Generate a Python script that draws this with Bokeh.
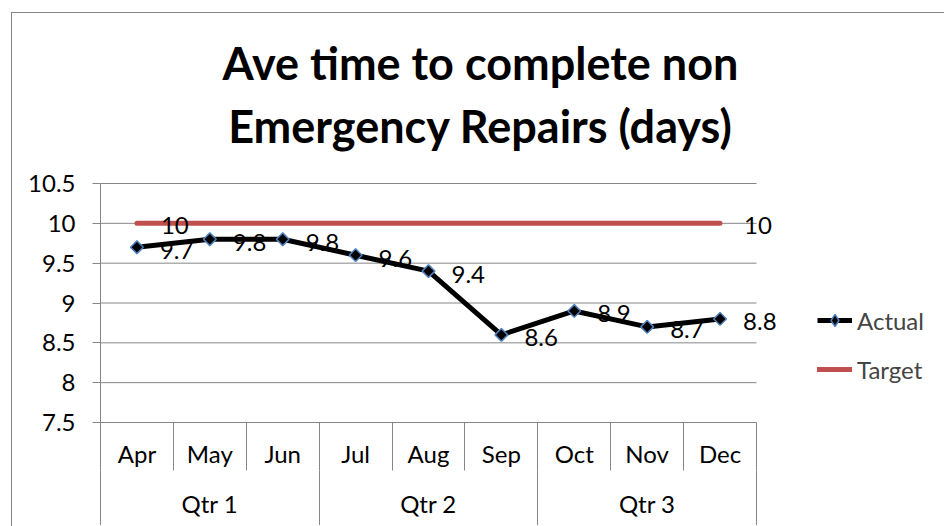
from bokeh.plotting import figure
from bokeh.models import (Range1d, LinearAxis, FixedTicker, CustomJSTickFormatter,
                          NumeralTickFormatter, Legend, LegendItem, LabelSet,
                          ColumnDataSource, Label, InlineStyleSheet)
from bokeh.core.properties import value
from bokeh.embed import file_html
from bokeh.resources import INLINE
import numpy as np

# ---- data ----
months = ["Apr", "May", "Jun", "Jul", "Aug", "Sep", "Oct", "Nov", "Dec"]
quarters = ["Qtr 1", "Qtr 2", "Qtr 3"]
months_per_quarter = 3
actual = [9.7, 9.8, 9.8, 9.6, 9.4, 8.6, 8.9, 8.7, 8.8]
target = [10, 10, 10, 10, 10, 10, 10, 10, 10]
y_ticks = [7.5, 8, 8.5, 9, 9.5, 10, 10.5]
title_lines = ["Ave time to complete non", "Emergency Repairs (days)"]

FONT = "Lato"
FS = "24px"
GRAY = "#868686"

# ---- layout (pixels) ----
PLOT_W, PLOT_H = 656, 239      # area holding the gridlines
LEFT, BOTTOM = 100, 103
FRAME_W, FRAME_H = 844, 422    # frame extends right/up so text beyond the grid is not clipped

n = len(months)
x = [i + 0.5 for i in range(n)]
month_bounds = list(range(n + 1))
q_centers = [i * months_per_quarter + months_per_quarter / 2 for i in range(len(quarters))]
q_bounds = [i * months_per_quarter for i in range(len(quarters) + 1)]
y0, y1 = min(y_ticks), max(y_ticks)
x_end = n * FRAME_W / PLOT_W
y_end = y0 + (y1 - y0) * FRAME_H / PLOT_H

src = ColumnDataSource(dict(x=x, actual=actual, target=target,
                            alabel=[str(v) for v in actual],
                            tlabel=[str(v) if i in (0, len(target) - 1) else "" for i, v in enumerate(target)]))
grid_src = ColumnDataSource(dict(x0=[0] * len(y_ticks), x1=[n] * len(y_ticks), y=y_ticks))

p = figure(frame_width=FRAME_W, frame_height=FRAME_H,
           min_border_left=LEFT, min_border_right=0, min_border_top=0, min_border_bottom=BOTTOM,
           x_range=Range1d(0, x_end), y_range=Range1d(y0, y_end),
           x_axis_type=None, y_axis_type=None,
           output_backend="svg", toolbar_location=None)
p.outline_line_color = None
p.background_fill_color = "white"
p.border_fill_color = "white"

# horizontal gridlines, limited to the category span
p.segment(x0="x0", x1="x1", y0="y", y1="y", source=grid_src, line_color=GRAY, line_width=1)

# y axis
yticker = FixedTicker(ticks=y_ticks, minor_ticks=[])
yaxis = LinearAxis(ticker=yticker, formatter=NumeralTickFormatter(format="0.[0]"), bounds=(y0, y1),
                   axis_line_color=GRAY, major_tick_line_color=GRAY,
                   major_tick_out=8, major_tick_in=0, minor_tick_out=0, minor_tick_in=0,
                   major_label_standoff=17, major_label_text_font=FONT,
                   major_label_text_font_size=FS, major_label_text_color="black")
p.add_layout(yaxis, "left")

# month axis
maxis = LinearAxis(ticker=FixedTicker(ticks=x, minor_ticks=month_bounds), bounds=(0, n),
                   formatter=CustomJSTickFormatter(args=dict(labels=months),
                                                   code="return labels[Math.round(tick - 0.5)]"),
                   axis_line_color=GRAY, major_tick_out=0, major_tick_in=0,
                   minor_tick_out=48, minor_tick_in=0, minor_tick_line_color=GRAY,
                   major_label_standoff=-32, major_label_text_font=FONT,
                   major_label_text_font_size=FS, major_label_text_color="black")
p.add_layout(maxis, "below")

# quarter axis
qaxis = LinearAxis(ticker=FixedTicker(ticks=q_centers, minor_ticks=q_bounds), bounds=(0, n),
                   formatter=CustomJSTickFormatter(args=dict(labels=quarters, n=months_per_quarter),
                                                   code="return labels[Math.round((tick - n/2) / n)]"),
                   axis_line_color=None, major_tick_out=0, major_tick_in=0,
                   minor_tick_out=70, minor_tick_in=0, minor_tick_line_color=GRAY,
                   major_label_standoff=-52, major_label_text_font=FONT,
                   major_label_text_font_size=FS, major_label_text_color="black")
p.add_layout(qaxis, "below")

# series
tline = p.line("x", "target", source=src, line_color="#C0504D", line_width=5, line_cap="round")
aline = p.line("x", "actual", source=src, line_color="black", line_width=5, line_join="round")
# diamond used as the legend swatch (legend glyphs are drawn unrotated); hidden under the markers
amark_key = p.scatter("x", "actual", source=src, marker="diamond", size=7,
                      fill_color="black", line_color="#4F81BD", line_width=1.5)
amark = p.scatter("x", "actual", source=src, marker="square", angle=np.pi / 4, size=9,
                  fill_color="black", line_color="#4F81BD", line_width=1.5)

p.add_layout(LabelSet(x="x", y="actual", text="alabel", source=src, x_offset=23, y_offset=-3,
                      text_baseline="middle", text_align="left", text_font=value(FONT),
                      text_font_size=FS, text_color="black"))
p.add_layout(LabelSet(x="x", y="target", text="tlabel", source=src, x_offset=24, y_offset=-2,
                      text_baseline="middle", text_align="left", text_font=value(FONT),
                      text_font_size=FS, text_color="black"))

legend = Legend(items=[LegendItem(label="Actual", renderers=[aline, amark_key]),
                       LegendItem(label="Target", renderers=[tline])],
                location=(717, 38), padding=0, margin=0, spacing=19,
                glyph_width=35, glyph_height=30, label_standoff=5,
                label_text_font=FONT, label_text_font_size=FS,
                border_line_color=None, background_fill_alpha=0)
p.add_layout(legend)

# title
for i, line in enumerate(title_lines):
    p.add_layout(Label(x=380, y=360 - 63 * i, x_units="screen", y_units="screen", text=line,
                       text_align="center", text_baseline="middle", text_font=FONT,
                       text_font_style="bold", text_font_size="45px", text_color="black"))

# chart area border (left and top edges)
p.stylesheets = [InlineStyleSheet(css=""":host::after { content: ''; position: absolute; left: 11px; top: 12px;
  right: -20px; bottom: -20px; border-left: 1.5px solid #868686; border-top: 1.5px solid #868686;
  pointer-events: none; z-index: 10; }""")]

open("out.html", "w").write(file_html(p, INLINE))
